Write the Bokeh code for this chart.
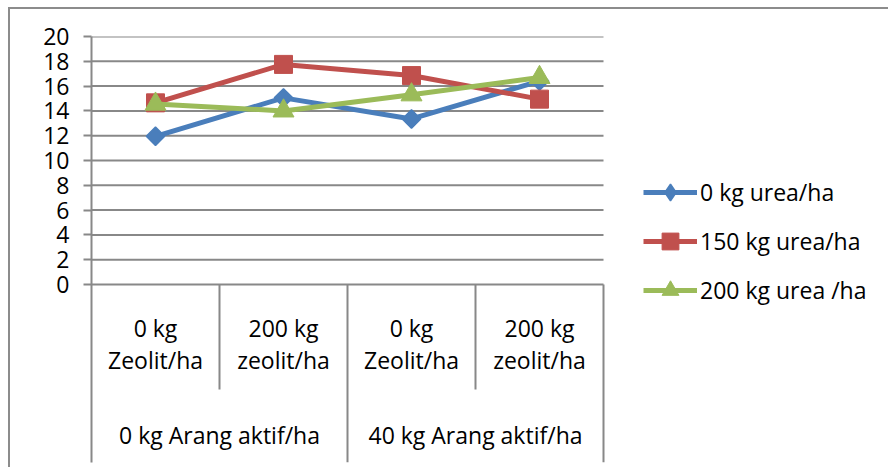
import math
from bokeh.plotting import figure
from bokeh.models import Range1d, FixedTicker, Legend, LegendItem, ColumnDataSource
from bokeh.core.properties import value
from bokeh.embed import file_html
from bokeh.resources import INLINE

# ---- data ----
groups = ["0 kg Arang aktif/ha", "40 kg Arang aktif/ha"]
subs = ["0 kg\nZeolit/ha", "200 kg\nzeolit/ha"]
series_names = ["0 kg urea/ha", "150 kg urea/ha", "200 kg urea /ha"]
urea_0 = [11.95, 15.05, 13.35, 16.4]
urea_150 = [14.65, 17.75, 16.85, 14.95]
urea_200 = [14.55, 14.0, 15.3, 16.7]
y_ticks = [0, 2, 4, 6, 8, 10, 12, 14, 16, 18, 20]

nsub = len(subs)
ncat = len(groups) * nsub
sub_labels = [s for g in groups for s in subs]
xpos = [i + 0.5 for i in range(ncat)]            # category centres
group_x = [nsub * k + nsub / 2 for k in range(len(groups))]

FONT = "Open Sans"
GRID = "#888888"
W, H = 880, 460
LEFT, TOP, BOTTOM = 81, 27, 7
CAT_PX = 128  # pixel width of one category

p = figure(width=W, height=H, output_backend="svg", toolbar_location=None,
           x_range=Range1d(0, (W - LEFT) / CAT_PX),
           y_range=Range1d(-14.35, 20),
           min_border_left=LEFT, min_border_right=0, min_border_top=TOP,
           min_border_bottom=BOTTOM)
p.styles = {"margin-left": "8px", "margin-top": "7px",
            "border-left": "2px solid #8c8c8c", "border-top": "2px solid #8c8c8c"}
p.outline_line_color = None
p.background_fill_color = "white"
p.border_fill_color = "white"

p.xaxis.visible = False
p.xgrid.visible = False
p.ygrid.visible = False

ya = p.yaxis[0]
ya.ticker = FixedTicker(ticks=y_ticks)
ya.axis_line_color = GRID
ya.axis_line_width = 2
ya.major_tick_line_color = GRID
ya.major_tick_line_width = 2
ya.major_tick_out = 8
ya.major_tick_in = 0
ya.minor_tick_line_color = None
ya.major_label_standoff = 14
ya.major_label_text_font = FONT
ya.major_label_text_font_size = "23px"
ya.major_label_text_color = "black"

# horizontal gridlines over the category span only
p.segment(x0=[0] * len(y_ticks), x1=[ncat] * len(y_ticks), y0=y_ticks, y1=y_ticks,
          line_color=GRID, line_width=2)

# category table separators
short_x = [nsub * k + 1 for k in range(len(groups))]
long_x = [nsub * (k + 1) for k in range(len(groups))]
p.segment(x0=short_x, x1=short_x, y0=[0] * len(short_x), y1=[-8.47] * len(short_x),
          line_color=GRID, line_width=2)
p.segment(x0=long_x, x1=long_x, y0=[0] * len(long_x), y1=[-14.35] * len(long_x),
          line_color=GRID, line_width=2)

# category labels
p.text(x=xpos, y=[-4.76] * ncat, text=sub_labels,
       text_align="center", text_baseline="middle", text_font=value(FONT),
       text_font_size="23px", text_color="black", text_line_height=1.0)
p.text(x=group_x, y=[-12.1] * len(groups), text=groups,
       text_align="center", text_baseline="middle", text_font=value(FONT),
       text_font_size="23px", text_color="black")

colors = ["#4a7ebb", "#c0504d", "#9bbb59"]
items = []
for name, vals, color, k in zip(series_names, [urea_0, urea_150, urea_200], colors, range(3)):
    src = ColumnDataSource(dict(x=xpos, y=vals))
    ln = p.line("x", "y", source=src, line_color=color, line_width=5)
    if k == 0:
        mk = p.scatter("x", "y", source=src, marker="square", size=13, angle=math.pi / 4,
                       fill_color=color, line_color=color, line_width=1.5)
        leg = p.scatter("x", "y", source=src, marker="diamond", size=0,
                        fill_color=color, line_color=color, line_width=1.5)
        rs = [ln, leg]
    elif k == 1:
        mk = p.scatter("x", "y", source=src, marker="square", size=18,
                       fill_color=color, line_color=color, line_width=1)
        rs = [ln, mk]
    else:
        mk = p.scatter("x", "y", source=src, marker="triangle", size=21,
                       fill_color=color, line_color=color, line_width=1)
        rs = [ln, mk]
    items.append(LegendItem(label=name, renderers=rs))

legend = Legend(items=items, location=(552, 151), orientation="vertical",
                glyph_width=54, glyph_height=42, label_height=42, spacing=7,
                padding=0, margin=0, label_standoff=3,
                border_line_color=None, background_fill_alpha=0,
                label_text_font=FONT, label_text_font_size="23px",
                label_text_color="black", label_text_baseline="middle")
p.add_layout(legend)

open("out.html", "w").write(file_html(p, INLINE))
